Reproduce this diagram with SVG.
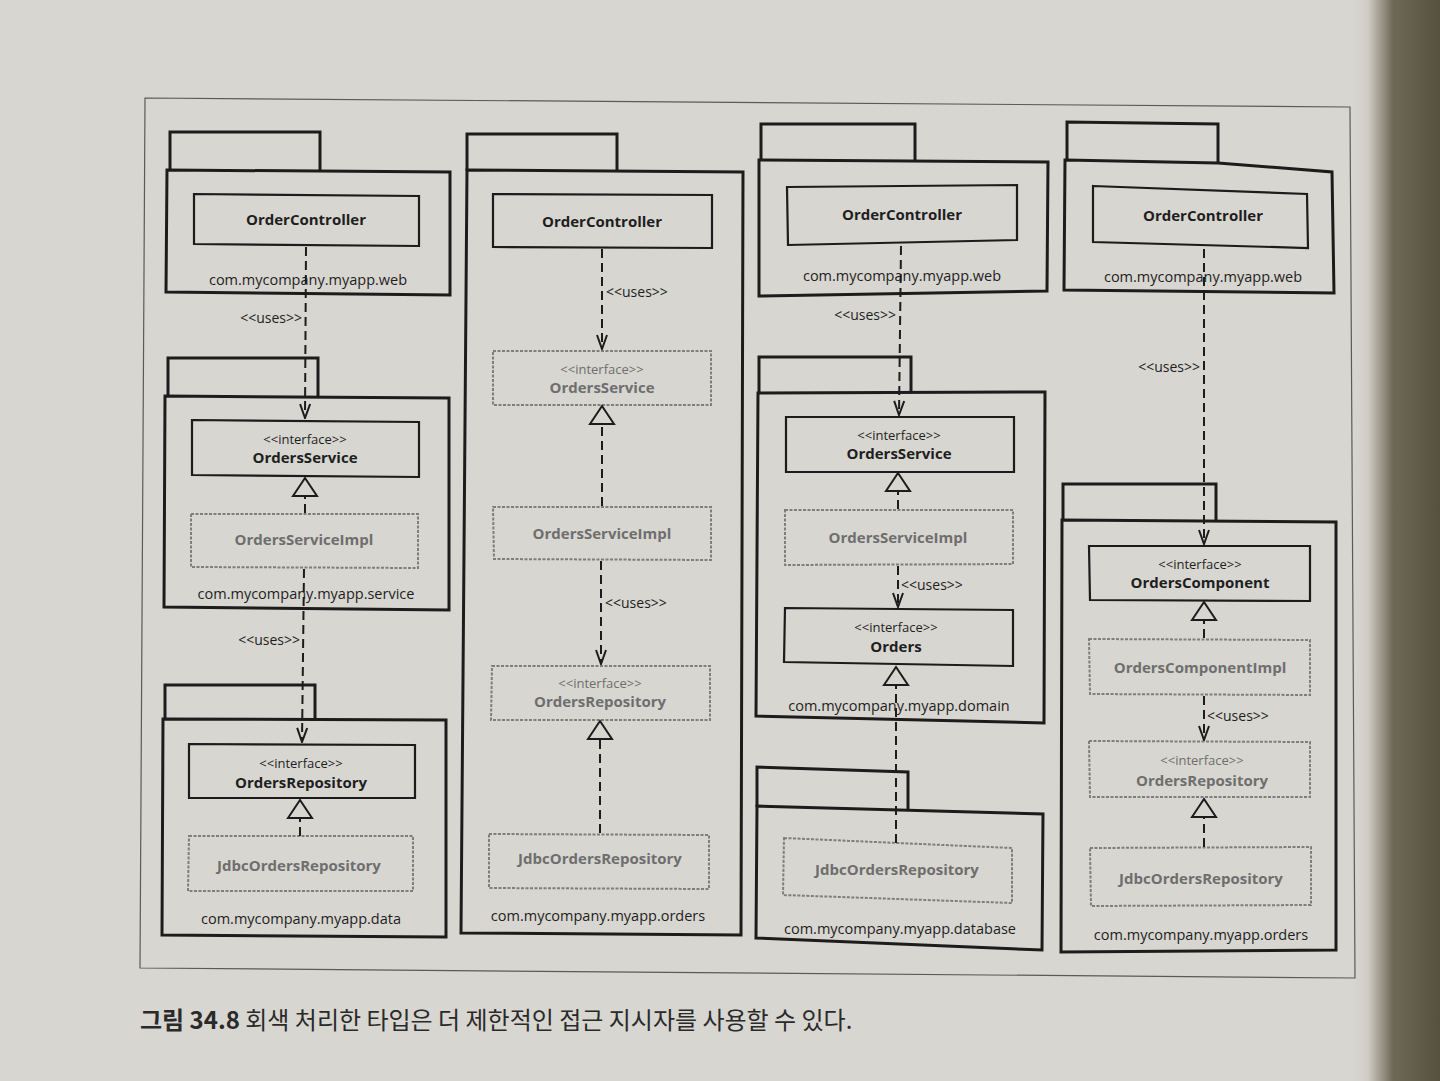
<svg xmlns="http://www.w3.org/2000/svg" width="1440" height="1081" viewBox="0 0 1440 1081">
<defs>
<linearGradient id="edge" x1="1350" y1="0" x2="1440" y2="0" gradientUnits="userSpaceOnUse">
<stop offset="0" stop-color="#d6d4ce" stop-opacity="0"/>
<stop offset="0.2" stop-color="#cfccc5"/>
<stop offset="0.48" stop-color="#6e6855"/>
<stop offset="1" stop-color="#565040"/>
</linearGradient>
<marker id="open" viewBox="0 0 16 12" refX="15" refY="6" markerWidth="16" markerHeight="12" orient="auto" markerUnits="userSpaceOnUse">
<path d="M1,1 L15,6 L1,11" fill="none" stroke="#1c1c1c" stroke-width="2"/>
</marker>
<marker id="tri" viewBox="0 0 22 28" refX="20" refY="14" markerWidth="22" markerHeight="28" orient="auto" markerUnits="userSpaceOnUse">
<path d="M2,2 L20,14 L2,26 Z" fill="#d8d6d1" stroke="#1c1c1c" stroke-width="2"/>
</marker>
</defs>
<style>
.pkg{fill:none;stroke:#1c1c1c;stroke-width:3;stroke-linejoin:miter}
.box{fill:none;stroke:#1c1c1c;stroke-width:2.2}
.gbox{fill:none;stroke:#7e7e7e;stroke-width:2;stroke-dasharray:3 1.5}
.t{font-family:"Open Sans","Noto Sans",sans-serif;fill:#1e1e1e;text-anchor:middle}
.nm{font-size:15px;font-weight:700}
.st{font-size:13px}
.pk{font-size:14.5px}
.g{fill:#6e6e6e}
.lbl{font-family:"Open Sans","Noto Sans",sans-serif;fill:#1e1e1e;font-size:14px}
.dep{fill:none;stroke:#1c1c1c;stroke-width:2;stroke-dasharray:9 5}
</style>
<rect x="0" y="0" width="1440" height="1081" fill="#d8d6d1"/>
<rect x="1340" y="0" width="100" height="1081" fill="url(#edge)"/>
<polygon points="145,98 1350,107 1355,978 140,968" fill="none" stroke="#5a5a5a" stroke-width="1.2"/>

<!-- Column 1 -->
<g id="pkg-web-1"><path class="pkg" d="M170,171 V132 H320 V171"/><polygon class="pkg" points="167,170 450,172 450,295 166,292"/><text class="t pk" x="308" y="285">com.mycompany.myapp.web</text></g>
<g id="orderController-1"><polygon class="box" points="194,194 419,196 419,246 194,244"/><text class="t nm" x="306" y="225">OrderController</text></g>
<g id="pkg-service-1"><path class="pkg" d="M168,397 V358 H318 V397"/><polygon class="pkg" points="165,396 449,398 449,610 164,607"/><text class="t pk" x="306" y="599">com.mycompany.myapp.service</text></g>
<g id="ordersService-1"><polygon class="box" points="192,420 419,422 419,477 192,475"/><text class="t st" x="305" y="444">&lt;&lt;interface&gt;&gt;</text><text class="t nm" x="305" y="463">OrdersService</text></g>
<g id="ordersServiceImpl-1"><polygon class="gbox" points="191,514 418,514 418,568 191,567"/><text class="t nm g" x="304" y="545">OrdersServiceImpl</text></g>
<g id="pkg-data-1"><path class="pkg" d="M165,720 V685 H315 V720"/><polygon class="pkg" points="163,719 446,720 446,937 162,935"/><text class="t pk" x="301" y="924">com.mycompany.myapp.data</text></g>
<g id="ordersRepository-1"><polygon class="box" points="189,744 415,745 415,798 189,798"/><text class="t st" x="301" y="768">&lt;&lt;interface&gt;&gt;</text><text class="t nm" x="301" y="788">OrdersRepository</text></g>
<g id="jdbcOrdersRepository-1"><polygon class="gbox" points="189,836 413,836 413,891 188,891"/><text class="t nm g" x="299" y="871">JdbcOrdersRepository</text></g>

<!-- Column 2 -->
<g id="pkg-orders-2"><path class="pkg" d="M467,171 V134 H617 V171"/><polygon class="pkg" points="467,170 743,172 741,935 461,933"/><text class="t pk" x="598" y="921">com.mycompany.myapp.orders</text></g>
<g id="orderController-2"><polygon class="box" points="493,194 712,195 712,248 493,247"/><text class="t nm" x="602" y="227">OrderController</text></g>
<g id="ordersService-2"><polygon class="gbox" points="493,351 711,351 711,405 493,405"/><text class="t st g" x="602" y="374">&lt;&lt;interface&gt;&gt;</text><text class="t nm g" x="602" y="393">OrdersService</text></g>
<g id="ordersServiceImpl-2"><polygon class="gbox" points="493,507 711,507 711,560 494,559"/><text class="t nm g" x="602" y="539">OrdersServiceImpl</text></g>
<g id="ordersRepository-2"><polygon class="gbox" points="492,666 710,666 710,720 491,720"/><text class="t st g" x="600" y="688">&lt;&lt;interface&gt;&gt;</text><text class="t nm g" x="600" y="707">OrdersRepository</text></g>
<g id="jdbcOrdersRepository-2"><polygon class="gbox" points="489,834 709,835 709,889 489,888"/><text class="t nm g" x="600" y="864">JdbcOrdersRepository</text></g>

<!-- Column 3 -->
<g id="pkg-web-3"><path class="pkg" d="M761,161 V124 H915 V161"/><polygon class="pkg" points="759,160 1048,162 1047,291 759,296"/><text class="t pk" x="902" y="281">com.mycompany.myapp.web</text></g>
<g id="orderController-3"><polygon class="box" points="787,187 1017,185 1017,240 788,245"/><text class="t nm" x="902" y="220">OrderController</text></g>
<g id="pkg-domain-3"><path class="pkg" d="M759,394 V357 H911 V393"/><polygon class="pkg" points="758,393 1045,392 1044,723 756,716"/><text class="t pk" x="899" y="711">com.mycompany.myapp.domain</text></g>
<g id="ordersService-3"><polygon class="box" points="786,417 1014,417 1014,472 786,472"/><text class="t st" x="899" y="440">&lt;&lt;interface&gt;&gt;</text><text class="t nm" x="899" y="459">OrdersService</text></g>
<g id="ordersServiceImpl-3"><polygon class="gbox" points="785,510 1013,510 1013,564 785,565"/><text class="t nm g" x="898" y="543">OrdersServiceImpl</text></g>
<g id="orders-3"><polygon class="box" points="785,608 1013,610 1013,666 784,662"/><text class="t st" x="896" y="632">&lt;&lt;interface&gt;&gt;</text><text class="t nm" x="896" y="652">Orders</text></g>
<g id="pkg-database-3"><path class="pkg" d="M757,807 V767 L908,772 V810"/><polygon class="pkg" points="757,806 1043,814 1042,950 756,938"/><text class="t pk" x="900" y="934">com.mycompany.myapp.database</text></g>
<g id="jdbcOrdersRepository-3"><polygon class="gbox" points="784,838 1012,848 1012,903 783,895"/><text class="t nm g" x="897" y="875">JdbcOrdersRepository</text></g>

<!-- Column 4 -->
<g id="pkg-web-4"><path class="pkg" d="M1067,161 V122 L1218,124 V163"/><polygon class="pkg" points="1065,160 1218,163 1332,172 1334,293 1064,290"/><text class="t pk" x="1203" y="282">com.mycompany.myapp.web</text></g>
<g id="orderController-4"><polygon class="box" points="1093,186 1307,194 1308,248 1093,242"/><text class="t nm" x="1203" y="221">OrderController</text></g>
<g id="pkg-orders-4"><path class="pkg" d="M1063,521 V484 H1216 V521"/><polygon class="pkg" points="1062,520 1336,522 1336,950 1061,952"/><text class="t pk" x="1201" y="940">com.mycompany.myapp.orders</text></g>
<g id="ordersComponent-4"><polygon class="box" points="1089,546 1310,546 1310,601 1090,600"/><text class="t st" x="1200" y="569">&lt;&lt;interface&gt;&gt;</text><text class="t nm" x="1200" y="588">OrdersComponent</text></g>
<g id="ordersComponentImpl-4"><polygon class="gbox" points="1089,639 1310,640 1310,695 1090,694"/><text class="t nm g" x="1200" y="673">OrdersComponentImpl</text></g>
<g id="ordersRepository-4"><polygon class="gbox" points="1089,741 1310,742 1310,797 1090,797"/><text class="t st g" x="1202" y="765">&lt;&lt;interface&gt;&gt;</text><text class="t nm g" x="1202" y="786">OrdersRepository</text></g>
<g id="jdbcOrdersRepository-4"><polygon class="gbox" points="1090,848 1311,847 1311,905 1091,906"/><text class="t nm g" x="1201" y="884">JdbcOrdersRepository</text></g>

<!-- Connectors -->
<g id="connectors">
<path class="dep" d="M306,247 L305,418" marker-end="url(#open)"/>
<path class="dep" d="M305,513 L305,478" marker-end="url(#tri)"/>
<path class="dep" d="M304,569 L302,742" marker-end="url(#open)"/>
<path class="dep" d="M300,836 L300,800" marker-end="url(#tri)"/>
<path class="dep" d="M602,249 L602,349" marker-end="url(#open)"/>
<path class="dep" d="M602,506 L602,406" marker-end="url(#tri)"/>
<path class="dep" d="M601,561 L601,664" marker-end="url(#open)"/>
<path class="dep" d="M600,833 L600,721" marker-end="url(#tri)"/>
<path class="dep" d="M901,246 L899,415" marker-end="url(#open)"/>
<path class="dep" d="M898,509 L898,473" marker-end="url(#tri)"/>
<path class="dep" d="M898,566 L898,607" marker-end="url(#open)"/>
<path class="dep" d="M896,843 L896,667" marker-end="url(#tri)"/>
<path class="dep" d="M1204,249 L1204,544" marker-end="url(#open)"/>
<path class="dep" d="M1204,638 L1204,602" marker-end="url(#tri)"/>
<path class="dep" d="M1204,696 L1204,740" marker-end="url(#open)"/>
<path class="dep" d="M1204,847 L1204,799" marker-end="url(#tri)"/>
<text class="lbl" x="302" y="323" text-anchor="end">&lt;&lt;uses&gt;&gt;</text>
<text class="lbl" x="300" y="645" text-anchor="end">&lt;&lt;uses&gt;&gt;</text>
<text class="lbl" x="606" y="297">&lt;&lt;uses&gt;&gt;</text>
<text class="lbl" x="605" y="608">&lt;&lt;uses&gt;&gt;</text>
<text class="lbl" x="896" y="320" text-anchor="end">&lt;&lt;uses&gt;&gt;</text>
<text class="lbl" x="901" y="590">&lt;&lt;uses&gt;&gt;</text>
<text class="lbl" x="1200" y="372" text-anchor="end">&lt;&lt;uses&gt;&gt;</text>
<text class="lbl" x="1207" y="721">&lt;&lt;uses&gt;&gt;</text>
</g>

<text x="140" y="1029" font-family="'Noto Sans CJK KR','Noto Sans',sans-serif" font-size="24" fill="#2a2a2a"><tspan font-weight="700">그림 34.8</tspan> 회색 처리한 타입은 더 제한적인 접근 지시자를 사용할 수 있다.</text>
</svg>
